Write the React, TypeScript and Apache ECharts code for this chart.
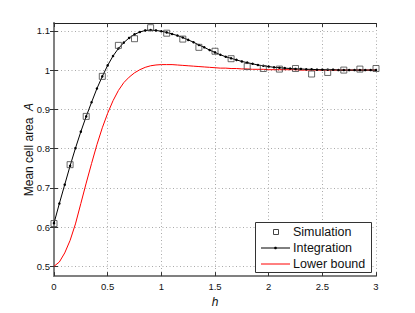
import React, { useEffect, useRef } from "react";
import * as echarts from "echarts";

// Simulation (open squares)
const simH = [0, 0.15, 0.3, 0.45, 0.6, 0.75, 0.9, 1.05, 1.2, 1.35, 1.5, 1.65, 1.8, 1.95, 2.1, 2.25, 2.4, 2.55, 2.7, 2.85, 3.0];
const simA = [0.609, 0.759, 0.882, 0.984, 1.063, 1.080, 1.108, 1.094, 1.079, 1.058, 1.048, 1.029, 1.009, 1.004, 1.0025, 1.004, 0.990, 0.994, 1.0, 1.0025, 1.004];

// Grid of h used by the integration and the lower bound
const hGrid = [
  0, 0.05, 0.1, 0.15, 0.2, 0.25, 0.3, 0.35, 0.4, 0.45,
  0.5, 0.55, 0.6, 0.65, 0.7, 0.75, 0.8, 0.85, 0.9, 0.95,
  1.0, 1.05, 1.1, 1.15, 1.2, 1.25, 1.3, 1.35, 1.4, 1.45,
  1.5, 1.55, 1.6, 1.65, 1.7, 1.75, 1.8, 1.85, 1.9, 1.95,
  2.0, 2.05, 2.1, 2.15, 2.2, 2.25, 2.3, 2.35, 2.4, 2.45,
  2.5, 2.55, 2.6, 2.65, 2.7, 2.75, 2.8, 2.85, 2.9, 2.95, 3.0,
];

const integrationA = [
  0.610, 0.660, 0.708, 0.756, 0.801, 0.843, 0.882, 0.918, 0.953, 0.984,
  1.012, 1.036, 1.055, 1.070, 1.082, 1.091, 1.097, 1.101, 1.102, 1.101,
  1.099, 1.096, 1.092, 1.088, 1.083, 1.077, 1.071, 1.064, 1.058, 1.051,
  1.045, 1.039, 1.034, 1.030, 1.026, 1.022, 1.019, 1.016, 1.013, 1.011,
  1.009, 1.007, 1.006, 1.005, 1.004, 1.003, 1.003, 1.002, 1.002, 1.001,
  1.001, 1.001, 1.001, 1.000, 1.000, 1.000, 1.000, 1.000, 1.000, 1.000, 1.000,
];

const lowerA = [
  0.500, 0.511, 0.534, 0.566, 0.608, 0.660, 0.712, 0.762, 0.810, 0.853,
  0.890, 0.922, 0.948, 0.968, 0.982, 0.993, 1.001, 1.007, 1.011, 1.013,
  1.014, 1.014, 1.014, 1.013, 1.012, 1.011, 1.010, 1.009, 1.008, 1.007,
  1.006, 1.005, 1.005, 1.004, 1.004, 1.003, 1.003, 1.002, 1.002, 1.002,
  1.001, 1.001, 1.001, 1.001, 1.001, 1.001, 1.000, 1.000, 1.000, 1.000,
  1.000, 1.000, 1.000, 1.000, 1.000, 1.000, 1.000, 1.000, 1.000, 1.000, 1.000,
];

const yTicks = [0.5, 0.6, 0.7, 0.8, 0.9, 1, 1.1];
const legendNames = ["Simulation", "Integration", "Lower bound"];

const FONT = "Liberation Sans, Arial, Helvetica, sans-serif";

export default function App() {
  const ref = useRef<HTMLDivElement>(null);
  useEffect(() => {
    if (!ref.current) return;
    const chart = echarts.init(ref.current, null, { renderer: "svg" });
    const grayAxis = { show: true, lineStyle: { color: "#808080", width: 2 } };
    const tickIn = { show: true, inside: true, length: 4, lineStyle: { color: "#333", width: 1 } };
    const dotted = { show: true, lineStyle: { color: "#aaa", type: [1, 2.5] as any, width: 1 } };
    chart.setOption({
      animation: false,
      backgroundColor: "#fff",
      grid: { left: 54, right: 39, top: 23, bottom: 36 },
      xAxis: [
        {
          type: "value", min: 0, max: 3, interval: 0.5, position: "bottom",
          axisLine: grayAxis, axisTick: tickIn, splitLine: dotted,
          axisLabel: { margin: 5, fontSize: 9.5, color: "#111", fontFamily: FONT },
          name: "h", nameLocation: "middle", nameGap: 15,
          nameTextStyle: { fontStyle: "italic", fontSize: 12, color: "#111", fontFamily: FONT },
        },
        {
          type: "value", min: 0, max: 3, interval: 0.5, position: "top",
          axisLine: { show: true, lineStyle: { color: "#222", width: 1 } },
          axisTick: tickIn, axisLabel: { show: false }, splitLine: { show: false },
        },
      ],
      yAxis: [
        {
          type: "value", min: 0.475, max: 1.12, position: "left",
          axisLine: grayAxis,
          axisTick: { ...tickIn, customValues: yTicks },
          splitLine: dotted,
          axisLabel: { customValues: yTicks, margin: 4, fontSize: 9.5, color: "#111", fontFamily: FONT },
          name: "Mean cell area  {i|A}", nameLocation: "middle", nameGap: 19, nameRotate: 90,
          nameMoveOverlap: false,
          nameTextStyle: {
            fontSize: 12, color: "#111", fontFamily: FONT,
            rich: { i: { fontStyle: "italic", fontSize: 12, color: "#111", fontFamily: FONT } },
          },
        },
        {
          type: "value", min: 0.475, max: 1.12, position: "right",
          axisLine: grayAxis,
          axisTick: { ...tickIn, customValues: yTicks },
          axisLabel: { show: false, customValues: yTicks }, splitLine: { show: false },
        },
      ],
      series: [
        {
          name: legendNames[2], type: "line", xAxisIndex: 0, yAxisIndex: 0,
          data: hGrid.map((h, i) => [h, lowerA[i]]),
          showSymbol: false, lineStyle: { color: "#ff0000", width: 1 }, z: 2,
        },
        {
          name: legendNames[1], type: "line", xAxisIndex: 0, yAxisIndex: 0,
          data: hGrid.map((h, i) => [h, integrationA[i]]),
          symbol: "circle", symbolSize: 2.5, showSymbol: true,
          itemStyle: { color: "#000" }, lineStyle: { color: "#000", width: 1 }, z: 3,
        },
        {
          name: legendNames[0], type: "scatter", xAxisIndex: 0, yAxisIndex: 0,
          data: simH.map((h, i) => [h, simA[i]]),
          symbol: "rect", symbolSize: 6,
          itemStyle: { color: "rgba(0,0,0,0)", borderColor: "#444", borderWidth: 1 }, z: 4,
        },
      ],
      graphic: [
        { type: "rect", z: 100, shape: { x: 255.5, y: 222.5, width: 116, height: 50 }, style: { fill: "#fff", stroke: "#333", lineWidth: 1 } },
        { type: "rect", z: 101, shape: { x: 273.5, y: 229.5, width: 5, height: 5 }, style: { fill: "none", stroke: "#444", lineWidth: 1 } },
        { type: "line", z: 101, shape: { x1: 261, y1: 248, x2: 290, y2: 248 }, style: { stroke: "#000", lineWidth: 1 } },
        { type: "circle", z: 102, shape: { cx: 275.5, cy: 248, r: 1.3 }, style: { fill: "#000" } },
        { type: "line", z: 101, shape: { x1: 261, y1: 264, x2: 290, y2: 264 }, style: { stroke: "#ff0000", lineWidth: 1 } },
        { type: "text", z: 101, x: 293, y: 232, style: { text: legendNames[0], fontSize: 12.5, fill: "#111", fontFamily: FONT, verticalAlign: "middle" } },
        { type: "text", z: 101, x: 293, y: 248, style: { text: legendNames[1], fontSize: 12.5, fill: "#111", fontFamily: FONT, verticalAlign: "middle" } },
        { type: "text", z: 101, x: 293, y: 264, style: { text: legendNames[2], fontSize: 12.5, fill: "#111", fontFamily: FONT, verticalAlign: "middle" } },
      ],
    });
    return () => chart.dispose();
  }, []);
  return <div ref={ref} style={{ width: 415, height: 313, position: "absolute", left: 0, top: 0 }} />;
}
